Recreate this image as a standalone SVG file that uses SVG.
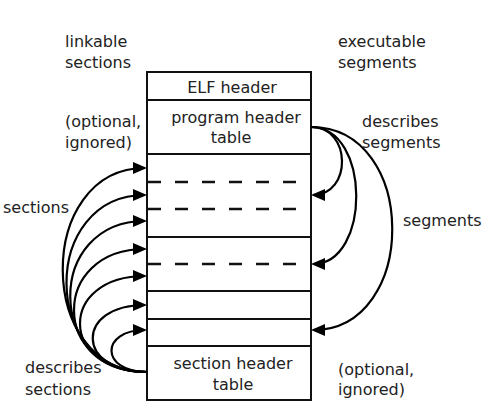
<svg xmlns="http://www.w3.org/2000/svg" width="494" height="419" viewBox="0 0 494 419">
<style>
text{font-family:"DejaVu Sans",Verdana,sans-serif;font-size:16px;fill:#222}
.c{text-anchor:middle}
.box{fill:#fff;stroke:#111;stroke-width:2}
.sep{stroke:#111;stroke-width:2}
.dash{stroke:#111;stroke-width:2.6;stroke-dasharray:13 14}
.arc{fill:none;stroke:#000;stroke-width:2.2}
</style>
<defs>
<marker id="ah" markerUnits="userSpaceOnUse" markerWidth="15" markerHeight="13" refX="12" refY="6" orient="auto">
<path d="M0,0 L14,6 L0,12 z" fill="#000"/>
</marker>
</defs>
<rect width="494" height="419" fill="#fff"/>
<g id="elf-file">
<rect class="box" x="147" y="72" width="164" height="328"/>
<line class="sep" x1="147" y1="100" x2="311" y2="100"/>
<line class="sep" x1="147" y1="154" x2="311" y2="154"/>
<line class="dash" x1="148" y1="182" x2="300" y2="182"/>
<line class="dash" x1="148" y1="209" x2="300" y2="209"/>
<line class="sep" x1="147" y1="237" x2="311" y2="237"/>
<line class="dash" x1="148" y1="264" x2="300" y2="264"/>
<line class="sep" x1="147" y1="291" x2="311" y2="291"/>
<line class="sep" x1="147" y1="319" x2="311" y2="319"/>
<line class="sep" x1="147" y1="346" x2="311" y2="346"/>
</g>
<g id="elf-header"><text class="c" x="232" y="93">ELF header</text></g>
<g id="program-header-table"><text class="c" x="236" y="123">program header</text><text class="c" x="231" y="143">table</text></g>
<g id="section-header-table"><text class="c" x="233" y="369">section header</text><text class="c" x="233" y="390">table</text></g>
<g id="labels">
<text x="65" y="47">linkable</text>
<text x="65" y="68">sections</text>
<text x="338" y="47">executable</text>
<text x="338" y="68">segments</text>
<text x="65" y="127">(optional,</text>
<text x="65" y="148">ignored)</text>
<text x="362" y="127">describes</text>
<text x="362" y="148">segments</text>
<text x="3" y="213">sections</text>
<text x="403" y="226">segments</text>
<text x="25" y="373">describes</text>
<text x="25" y="395">sections</text>
<text x="338" y="375">(optional,</text>
<text x="338" y="395">ignored)</text>
</g>
<g id="connectors">
<path class="arc" marker-end="url(#ah)" d="M147,372 C35,372 35,168 145,168"/>
<path class="arc" marker-end="url(#ah)" d="M147,372 C40,372 40,195 145,195"/>
<path class="arc" marker-end="url(#ah)" d="M147,372 C45,372 45,221 145,221"/>
<path class="arc" marker-end="url(#ah)" d="M147,372 C50,372 50,249 145,249"/>
<path class="arc" marker-end="url(#ah)" d="M147,372 C58,372 58,276 145,276"/>
<path class="arc" marker-end="url(#ah)" d="M147,372 C75,372 75,305 145,305"/>
<path class="arc" marker-end="url(#ah)" d="M147,372 C100,372 100,330 145,330"/>
<path class="arc" marker-end="url(#ah)" d="M311,127 C352,127 352,195 313,195"/>
<path class="arc" marker-end="url(#ah)" d="M311,127 C371,127 371,264 313,264"/>
<path class="arc" marker-end="url(#ah)" d="M311,127 C419,127 419,330 313,330"/>
</g>
</svg>
